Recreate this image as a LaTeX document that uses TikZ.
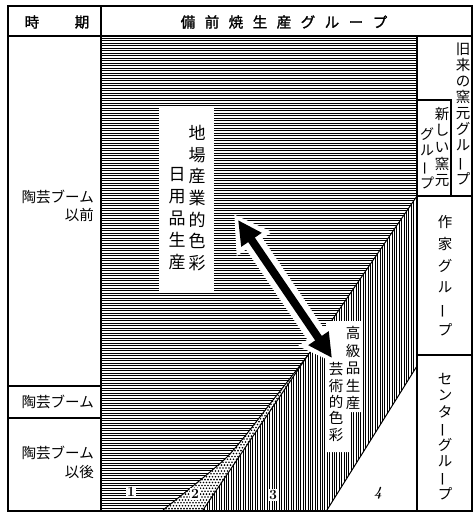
\documentclass[tikz,border=0pt]{standalone}
\usepackage{fontspec}
\usepackage{graphicx}
\newfontfamily\cjk{Noto Sans CJK JP}
\newfontfamily\cjkb[FakeBold=1.5]{Noto Sans CJK JP}
\usetikzlibrary{arrows.meta}
\newcommand{\vbar}{\rotatebox[origin=c]{90}{ー}}
\tikzset{
  x=1pt, y=-1pt,
  frame/.style={line width=1.3pt, black},
  edge/.style={line width=1pt, black},
  hline/.style={line width=0.85pt, black},
  vline/.style={line width=0.8pt, black},
  vtext/.style={align=center, inner sep=0pt},
  lbl/.style={inner sep=0pt, font=\cjk\fontsize{14.5}{18}\selectfont},
  numbox/.style={fill=white, inner sep=1.2pt, font=\bfseries\fontsize{14}{14}\selectfont}
}
\begin{document}
\begin{tikzpicture}
\useasboundingbox (0,0) rectangle (474,514);
\fill[white] (0,0) rectangle (474,514);

% region 1: horizontal hatching
\begin{scope}
\clip (102,37) -- (417,37) -- (417,196) -- plot[smooth,tension=0.4] coordinates {(417,196) (330,323) (308,355) (273,400) (227,457) (163,510)} -- (102,510) -- cycle;
\foreach \y in {38,40.5,...,511} \draw[hline] (102,\y) -- (417,\y);
\end{scope}

% region 3: vertical hatching
\begin{scope}
\clip (417,196) -- plot[smooth,tension=0.4] coordinates {(417,196) (330,323) (308,355)} -- (203,510) -- (327,510) -- (417,366) -- cycle;
\foreach \x in {200,202.4,...,418} \draw[vline] (\x,190) -- (\x,512);
\end{scope}

% region 2: dotted strip
\begin{scope}
\clip (308,355) -- plot[smooth,tension=0.4] coordinates {(308,355) (273,400) (227,457) (163,510)} -- (203,510) -- cycle;
\fill[white] (160,350) rectangle (312,512);
\foreach \i in {0,...,52} {
  \foreach \j in {0,...,55} {
    \fill[black] ({160+\i*3+mod(\j,2)*1.5},{352+\j*2.9}) circle (0.9pt);
  }
}
\end{scope}

% boundaries
\draw[edge] plot[smooth,tension=0.4] coordinates {(417,196) (330,323) (308,355) (273,400) (227,457) (163,510)};
\draw[edge] (308,355) -- (203,510);
\draw[edge] (417,366) -- (327,510);

% text box 1
\fill[white] (159,107) rectangle (214,292);
% text box 2
\fill[white] (326,321) -- (362,321) -- (362,412) -- (349,412) -- (349,452) -- (326,452) -- cycle;

% arrow with white halo
\coordinate (p) at (238,220);
\coordinate (q) at (332,358);
\draw[white, line width=20pt, {Triangle[length=36pt,width=40pt]}-{Triangle[length=36pt,width=40pt]}, shorten <=-7pt, shorten >=-7pt] (p) -- (q);
\fill[white] (326,321) rectangle (362,380);
\draw[black, line width=8pt, {Triangle[length=24pt,width=23pt]}-{Triangle[length=24pt,width=23pt]}] (p) -- (q);

% box texts
\node[vtext, font=\cjk\fontsize{17}{21.7}\selectfont] (t1) at (197,198) {地\\場\\産\\業\\的\\色\\彩};
\node[vtext, font=\cjk\fontsize{17}{22}\selectfont] (t2) at (177,219) {日\\用\\品\\生\\産};
\node[vtext, font=\cjk\fontsize{14.5}{17.5}\selectfont] (t3) at (353,368) {高\\級\\品\\生\\産};
\node[vtext, font=\cjk\fontsize{14.5}{16.3}\selectfont] (t4) at (336,402) {芸\\術\\的\\色\\彩};

% numbers
\node[numbox] (n1) at (131,492) {1};
\node[numbox] (n2) at (195,494) {2};
\node[numbox] (n3) at (273,495) {3};
\node[inner sep=0pt, font=\bfseries\itshape\fontsize{14}{14}\selectfont] (n4) at (378,493) {4};

% frame
\draw[frame] (8,6) rectangle (472,511);
\draw[frame] (8,36) -- (472,36);
\draw[frame] (101,6) -- (101,511);
\draw[frame] (417,36) -- (417,511);
\draw[frame] (417,196) -- (472,196);
\draw[frame] (417,100) -- (451,100) -- (451,196);
\draw[frame] (417,355) -- (472,355);
\draw[frame] (8,386) -- (101,386);
\draw[frame] (8,418) -- (101,418);

% header
\node[inner sep=0pt, font=\cjkb\fontsize{14.5}{16}\selectfont] (h1) at (32,22) {時};
\node[inner sep=0pt, font=\cjkb\fontsize{14.5}{16}\selectfont] (h2) at (82,22) {期};
\node[inner sep=0pt, font=\cjkb\fontsize{14.5}{16}\selectfont] (h3) at (284,22) {備\hspace{9.5pt}前\hspace{9.5pt}焼\hspace{9.5pt}生\hspace{9.5pt}産\hspace{9.5pt}グ\hspace{9.5pt}ル\hspace{9.5pt}ー\hspace{9.5pt}プ};

% left column
\node[lbl, anchor=east] (l1) at (94,197) {陶芸ブーム};
\node[lbl, anchor=east] (l2) at (94,215) {以前};
\node[lbl, anchor=east] (l3) at (94,402) {陶芸ブーム};
\node[lbl, anchor=east] (l4) at (94,453) {陶芸ブーム};
\node[lbl, anchor=east] (l5) at (94,472) {以後};

% right column
\node[vtext, font=\cjk\fontsize{14.5}{16}\selectfont] (r1) at (463,114) {旧\\来\\の\\窯\\元\\グ\\ル\\\vbar\\プ};
\node[vtext, font=\cjk\fontsize{14.5}{16.7}\selectfont] (r2) at (442,147) {新\\し\\い\\窯\\元};
\node[vtext, font=\cjk\fontsize{14}{16.3}\selectfont] (r3) at (427,158) {グ\\ル\\\vbar\\プ};
\node[vtext, font=\cjk\fontsize{14.5}{21.6}\selectfont] (r4) at (445,276) {作\\家\\グ\\ル\\\vbar\\プ};
\node[vtext, font=\cjk\fontsize{14.5}{16.1}\selectfont] (r5) at (445,437) {セ\\ン\\タ\\\vbar\\グ\\ル\\\vbar\\プ};
\end{tikzpicture}
\end{document}
